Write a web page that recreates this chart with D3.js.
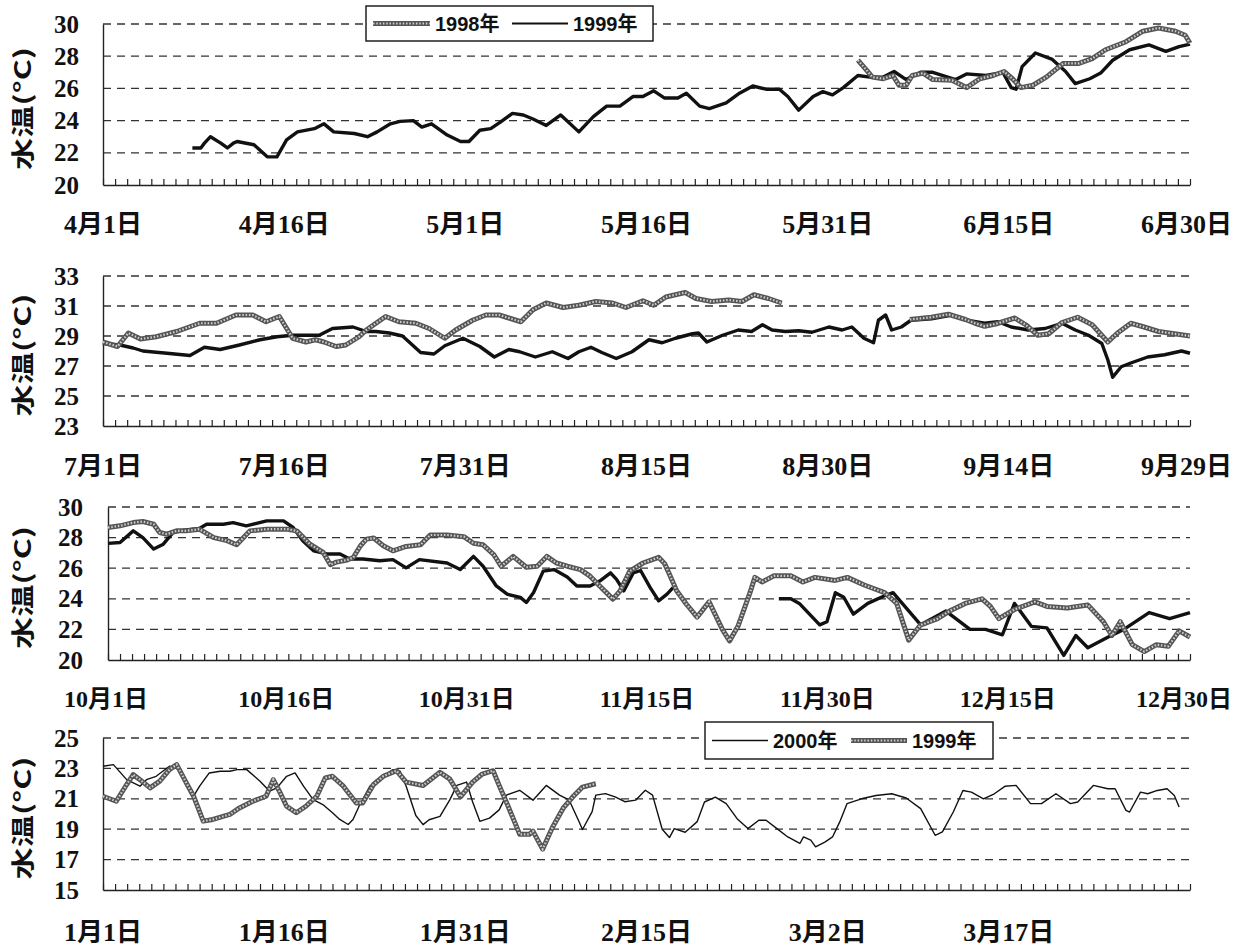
<!DOCTYPE html>
<html>
<head>
<meta charset="utf-8">
<script src="https://cdn.jsdelivr.net/npm/d3@7"></script>
<style>
body { margin: 0; background: #fff; }
</style>
</head>
<body>
<svg id="chart" width="1238" height="947"></svg>
<script>
// ---- data: [day offset from first label, water temperature] ----

// panel 1: Apr 1 - Jun 30
let p1Labels = ["4月1日", "4月16日", "5月1日", "5月16日", "5月31日", "6月15日", "6月30日"];
let p1Ticks = [20, 22, 24, 26, 28, 30];
let p1Y1999 = [[7.4,22.3],[8.1,22.3],[8.4,22.6],[8.9,23.0],[9.75,22.6],[10.3,22.3],[10.8,22.6],[11.1,22.7],[12.5,22.5],[13.6,21.75],[14.4,21.75],[15.2,22.8],[16.1,23.3],[17.5,23.5],[18.3,23.8],[19.1,23.3],[20.8,23.2],[21.9,23.0],[22.7,23.3],[23.8,23.8],[24.6,23.95],[25.7,24.0],[26.4,23.6],[27.2,23.8],[28.5,23.1],[29.6,22.7],[30.3,22.7],[31.2,23.4],[32.1,23.5],[32.9,23.9],[33.9,24.45],[34.8,24.35],[35.6,24.1],[36.7,23.7],[37.9,24.35],[39.4,23.3],[40.6,24.25],[41.7,24.9],[42.8,24.9],[43.9,25.5],[44.7,25.5],[45.6,25.85],[46.5,25.4],[47.6,25.4],[48.3,25.7],[49.4,24.9],[50.2,24.75],[51.6,25.1],[52.7,25.7],[53.8,26.15],[54.9,25.95],[56.0,25.95],[56.7,25.5],[57.6,24.65],[58.8,25.5],[59.6,25.8],[60.4,25.6],[61.3,26.05],[62.5,26.8],[63.5,26.7],[64.6,26.7],[65.5,27.05],[66.5,26.55],[67.7,27.0],[68.7,27.0],[70.6,26.55],[71.5,26.9],[73.1,26.8],[74.5,27.0],[75.2,26.05],[75.6,25.95],[76.1,27.35],[77.2,28.2],[78.6,27.8],[79.7,27.05],[80.5,26.3],[81.7,26.6],[82.6,26.95],[83.6,27.75],[85.0,28.4],[86.6,28.7],[88.0,28.3],[89.1,28.6],[90,28.75]];
let p1Y1998 = [[62.5,27.75],[63.2,27.15],[63.7,26.7],[64.6,26.6],[65.4,26.8],[65.9,26.2],[66.5,26.2],[67.0,26.8],[67.9,26.95],[68.7,26.55],[70.3,26.5],[71.5,26.05],[72.6,26.6],[73.7,26.8],[74.6,27.05],[75.3,26.6],[76.0,26.05],[77.0,26.2],[78.1,26.7],[79.5,27.55],[80.8,27.55],[81.9,27.85],[83.0,28.4],[84.7,28.9],[86.1,29.55],[87.4,29.75],[88.8,29.55],[89.6,29.3],[90,28.8]];

// panel 2: Jul 1 - Sep 29
let p2Labels = ["7月1日", "7月16日", "7月31日", "8月15日", "8月30日", "9月14日", "9月29日"];
let p2Ticks = [23, 25, 27, 29, 31, 33];
let p2Y1998 = [[0,28.6],[1.2,28.3],[2.1,29.2],[3.1,28.8],[4.4,28.95],[6.1,29.3],[8.0,29.85],[9.4,29.85],[11.0,30.4],[12.4,30.4],[13.5,29.95],[14.6,30.3],[15.7,28.85],[16.8,28.6],[17.6,28.75],[18.3,28.6],[19.3,28.3],[20.1,28.4],[21.2,28.95],[21.8,29.4],[22.6,29.85],[23.4,30.3],[24.5,29.95],[25.9,29.85],[27.0,29.5],[28.3,28.85],[29.2,29.4],[30.6,30.05],[31.7,30.4],[32.8,30.4],[33.6,30.2],[34.6,29.95],[35.6,30.75],[36.7,31.2],[38.1,30.9],[39.4,31.05],[40.8,31.3],[42.2,31.2],[43.3,30.9],[44.7,31.35],[45.6,31.05],[46.6,31.6],[48.2,31.9],[49.1,31.5],[50.4,31.3],[51.8,31.4],[52.9,31.3],[53.9,31.75],[55.1,31.5],[56.2,31.2],
  null,
  [66.8,30.1],[68.6,30.25],[70.0,30.45],[71.4,30.1],[72.2,29.85],[73.0,29.65],[73.9,29.8],[74.7,30.0],[75.5,30.2],[76.4,29.75],[77.4,29.05],[78.3,29.15],[79.4,29.9],[80.7,30.25],[81.9,29.75],[83.2,28.6],[84.0,29.2],[85.1,29.85],[86.2,29.6],[87.4,29.3],[88.7,29.15],[90,29.0]];
let p2Y1999 = [[0,28.5],[1.4,28.4],[2.5,28.2],[3.3,28.0],[5.3,27.85],[7.2,27.7],[8.4,28.25],[9.7,28.1],[11.3,28.4],[13.0,28.75],[14.4,28.95],[15.7,29.05],[17.9,29.05],[19.0,29.5],[20.7,29.6],[21.8,29.3],[22.6,29.3],[23.7,29.2],[24.8,29.0],[26.3,27.9],[27.4,27.8],[28.3,28.35],[29.8,28.85],[31.2,28.3],[32.4,27.6],[33.6,28.1],[34.5,27.95],[35.8,27.6],[37.2,27.95],[38.5,27.5],[39.4,27.95],[40.4,28.25],[41.3,27.9],[42.5,27.5],[43.8,27.95],[45.2,28.75],[46.3,28.55],[47.4,28.85],[48.8,29.15],[49.3,29.2],[50.0,28.6],[51.3,29.05],[52.6,29.4],[53.7,29.3],[54.6,29.75],[55.4,29.4],[56.5,29.3],[57.6,29.35],[58.7,29.25],[60.1,29.6],[61.2,29.4],[62.0,29.6],[63.0,28.85],[63.8,28.55],[64.2,30.05],[64.8,30.4],[65.3,29.4],[66.1,29.6],[66.9,30.05],[68.6,30.15],[70.3,30.4],[71.9,30.0],[73.0,29.85],[74.1,29.95],[75.2,29.6],[76.6,29.4],[78.0,29.5],[79.4,29.85],[80.5,29.4],[81.6,29.05],[82.7,28.5],[83.2,27.4],[83.6,26.25],[84.3,26.95],[85.1,27.2],[86.5,27.6],[87.9,27.75],[89.3,28.0],[90,27.85]];

// panel 3: Oct 1 - Dec 30
let p3Labels = ["10月1日", "10月16日", "10月31日", "11月15日", "11月30日", "12月15日", "12月30日"];
let p3Ticks = [20, 22, 24, 26, 28, 30];
let p3Y1998 = [[0,28.66],[1.0,28.77],[2.1,28.98],[2.9,29.05],[3.8,28.87],[4.3,28.33],[4.9,28.22],[5.7,28.44],[6.5,28.44],[7.6,28.55],[8.8,28.0],[9.9,27.8],[10.7,27.53],[11.8,28.44],[13.2,28.55],[14.9,28.55],[15.7,28.44],[16.8,27.57],[17.9,27.03],[18.5,26.23],[19.0,26.4],[19.9,26.54],[20.4,26.7],[21.0,27.47],[21.5,27.9],[22.1,27.97],[22.9,27.47],[23.7,27.14],[24.8,27.42],[26.0,27.53],[26.8,28.17],[28.2,28.17],[29.6,28.06],[30.4,27.63],[31.2,27.53],[32.1,26.88],[32.7,26.13],[33.7,26.77],[34.8,26.06],[35.7,26.13],[36.5,26.77],[37.3,26.34],[38.2,26.13],[39.3,25.91],[40.1,25.48],[40.9,24.84],[42.0,23.98],[42.6,24.52],[43.4,25.81],[44.5,26.34],[45.8,26.71],[46.3,26.3],[46.7,25.6],[47.3,24.52],[48.1,23.66],[49.0,22.8],[50.0,23.8],[51.1,22.0],[51.7,21.25],[52.4,22.2],[53.4,24.4],[53.8,25.4],[54.4,25.1],[55.4,25.5],[56.8,25.5],[57.8,25.1],[58.8,25.4],[60.5,25.2],[61.5,25.4],[62.9,24.9],[64.6,24.4],[65.6,23.7],[66.6,21.3],[67.6,22.3],[68.0,22.4],[69.0,22.7],[70.0,23.2],[71.3,23.7],[72.7,24.0],[73.4,23.5],[74.1,22.7],[75.4,23.3],[77.1,23.8],[78.1,23.5],[79.8,23.4],[81.5,23.6],[82.8,22.5],[83.5,21.6],[84.2,22.5],[85.2,21.0],[86.2,20.55],[87.2,21.0],[88.2,20.9],[89.1,21.9],[90,21.5]];
let p3Y1999 = [[0,27.62],[1.0,27.68],[2.1,28.44],[2.9,28.0],[3.8,27.25],[4.6,27.57],[5.4,28.33],[6.3,28.48],[7.6,28.6],[8.2,28.87],[9.6,28.87],[10.4,28.98],[11.5,28.77],[13.2,29.09],[14.6,29.09],[15.4,28.66],[16.2,27.8],[17.1,27.14],[18.2,26.93],[19.3,26.93],[20.1,26.6],[21.2,26.6],[22.6,26.49],[23.7,26.56],[24.8,26.02],[25.9,26.56],[28.2,26.34],[29.3,25.91],[30.4,26.77],[31.2,26.13],[32.3,24.84],[33.2,24.3],[34.3,24.09],[34.8,23.76],[35.4,24.41],[36.2,25.81],[37.1,25.91],[38.2,25.42],[39.0,24.84],[40.1,24.84],[40.9,25.16],[41.8,25.7],[42.3,25.27],[42.9,24.52],[43.7,25.7],[44.3,25.85],[45.1,24.73],[45.8,23.87],[46.5,24.3],[47.0,24.73],
  null,
  [55.8,24.0],[56.8,24.0],[57.5,23.7],[59.2,22.3],[59.8,22.5],[60.5,24.4],[61.2,24.1],[62.0,23.0],[63.2,23.7],[64.6,24.2],[65.3,24.4],[67.6,22.3],[69.7,23.2],[71.7,22.0],[73.0,22.0],[74.4,21.65],[75.4,23.7],[76.8,22.2],[78.1,22.1],[79.5,20.3],[80.5,21.6],[81.5,20.8],[83.2,21.5],[84.5,22.0],[86.6,23.1],[88.3,22.7],[90,23.1]];

// panel 4: Jan 1 - end of March
let p4Labels = ["1月1日", "1月16日", "1月31日", "2月15日", "3月2日", "3月17日"];
let p4Ticks = [15, 17, 19, 21, 23, 25];
let p4Y2000 = [[0,23.14],[0.86,23.25],[1.96,22.26],[3.06,21.83],[3.6,22.26],[4.4,22.48],[5.5,23.14],[6.4,22.92],[6.9,21.83],[7.5,21.17],[8.0,21.83],[8.8,22.7],[9.7,22.81],[10.5,22.81],[11.1,22.92],[11.9,22.92],[13.0,22.16],[13.8,21.5],[14.4,21.72],[15.2,22.48],[15.9,22.7],[16.6,21.83],[17.4,20.95],[18.2,20.62],[19.0,20.08],[19.6,19.64],[20.3,19.31],[20.7,19.64],[21.2,20.51],[22.1,21.83],[23.2,22.48],[24.0,22.92],[24.6,22.81],[25.1,21.83],[25.9,19.9],[26.5,19.3],[27.0,19.62],[27.9,19.84],[28.7,20.91],[29.3,21.88],[30.1,22.1],[30.6,20.81],[31.2,19.52],[32.0,19.73],[32.8,20.27],[33.4,21.24],[34.5,21.56],[35.6,20.91],[36.7,21.88],[37.8,21.24],[38.6,20.91],[39.4,19.52],[39.7,18.98],[40.5,20.16],[40.8,21.24],[41.6,21.34],[42.4,21.13],[43.2,20.81],[44.1,20.91],[44.9,21.56],[45.5,21.24],[46.3,19.0],[46.9,18.45],[47.3,19.04],[48.2,18.8],[49.2,19.5],[49.8,20.79],[50.7,21.11],[51.6,20.68],[52.5,19.69],[53.4,19.04],[54.3,19.59],[54.9,19.59],[55.8,19.04],[56.7,18.49],[57.7,18.06],[58.0,18.49],[58.6,18.28],[59.0,17.84],[59.8,18.17],[60.4,18.49],[61.0,19.48],[61.6,20.68],[62.8,21.0],[64.0,21.22],[65.3,21.33],[66.5,21.05],[67.7,20.35],[68.9,18.6],[69.5,18.82],[70.4,20.13],[71.2,21.55],[71.9,21.44],[72.9,21.0],[73.8,21.33],[74.7,21.83],[75.6,21.88],[76.8,20.68],[77.7,20.68],[78.9,21.33],[80.1,20.68],[80.7,20.79],[82.0,21.88],[83.2,21.66],[83.8,21.66],[84.7,20.24],[85.0,20.13],[85.9,21.44],[86.5,21.33],[87.3,21.55],[88.1,21.66],[88.7,21.22],[89.1,20.46]];
let p4Y1999 = [[0,21.17],[1.1,20.84],[1.96,21.94],[2.5,22.59],[3.06,22.26],[3.9,21.72],[4.7,22.16],[5.5,22.92],[6.1,23.25],[6.9,22.05],[7.5,21.17],[8.3,19.53],[9.1,19.64],[10.5,19.97],[11.3,20.4],[12.4,20.84],[13.5,21.17],[14.1,22.26],[14.6,21.5],[15.2,20.51],[16.0,20.08],[16.8,20.51],[17.7,21.17],[18.4,22.37],[19.0,22.48],[19.9,21.83],[20.97,20.73],[21.5,20.73],[22.4,21.94],[23.2,22.48],[24.3,22.85],[25.1,22.1],[26.5,21.88],[27.9,22.74],[28.7,22.31],[29.6,21.13],[30.6,22.1],[31.4,22.63],[32.3,22.85],[32.8,21.88],[33.5,20.59],[34.5,18.66],[35.3,18.66],[35.6,18.87],[36.4,17.69],[37.2,19.09],[38.1,20.38],[38.9,21.13],[39.7,21.77],[40.8,21.99]];

const svg = d3.select("#chart");
const serif = "'Liberation Serif', 'DejaVu Serif', 'Noto Sans CJK JP', serif";
const gothic = "'Noto Sans CJK JP', 'Liberation Sans', sans-serif";

// marker style series (gray chain) vs. plain black series
function DrawChain(g, path) {
    g.append("path").attr("d", path).attr("fill", "none")
        .attr("stroke", "#555").attr("stroke-width", 5).attr("stroke-linejoin", "round");
    g.append("path").attr("d", path).attr("fill", "none")
        .attr("stroke", "#cfcfcf").attr("stroke-width", 2.2).attr("stroke-dasharray", "1.5,1.8");
}
function DrawSolid(g, path, w) {
    g.append("path").attr("d", path).attr("fill", "none")
        .attr("stroke", "#111").attr("stroke-width", w).attr("stroke-linejoin", "round");
}

function DrawPanel(p) {
    let x = d3.scaleLinear().domain([0, 90]).range([p.left, p.right]);
    let y = d3.scaleLinear().domain([p.ticks[0], p.ticks[p.ticks.length - 1]]).range([p.bottom, p.top]);
    let g = svg.append("g");

    // dashed grid
    g.selectAll("line.grid").data(p.ticks.slice(1)).join("line")
        .attr("x1", p.left).attr("x2", p.right)
        .attr("y1", d => y(d)).attr("y2", d => y(d))
        .attr("stroke", "#333").attr("stroke-width", 1.3).attr("stroke-dasharray", "8,6");

    // left axis with labels
    let ya = g.append("g").attr("transform", "translate(" + p.left + ",0)")
        .call(d3.axisLeft(y).tickValues(p.ticks).tickSize(0).tickPadding(p.yPad).tickFormat(d3.format("d")));
    ya.select(".domain").attr("stroke", "#222").attr("stroke-width", 1.4);
    ya.selectAll("text").attr("font-family", serif).attr("font-weight", "bold").attr("font-size", 25).attr("fill", "#111");

    // bottom axis: one tick per day, pointing up
    let xa = g.append("g").attr("transform", "translate(0," + p.bottom + ")")
        .call(d3.axisBottom(x).tickValues(d3.range(0, 91)).tickSize(-6).tickSizeOuter(0).tickFormat(""));
    xa.select(".domain").attr("stroke", "#222").attr("stroke-width", 1.6);
    xa.selectAll(".tick line").attr("stroke", "#222").attr("stroke-width", 1.2);

    // date labels every 15 days, kept inside the page on the right
    g.selectAll("text.xl").data(p.labels).join("text")
        .attr("x", (d, i) => x(i * 15) + p.labelDx)
        .attr("y", p.labelY)
        .attr("text-anchor", "middle")
        .attr("font-family", serif).attr("font-weight", "bold").attr("font-size", p.labelSize).attr("fill", "#111")
        .text(d => d)
        .each(function () {
            let w = this.getComputedTextLength();
            let cx = +this.getAttribute("x");
            if (cx + w / 2 > 1232) this.setAttribute("x", 1232 - w / 2);
        });

    // y title, stretched along its baseline like the scan
    g.append("text")
        .attr("transform", "translate(31," + ((p.top + p.bottom) / 2 + 4) + ") rotate(-90) scale(1.4,1)")
        .attr("text-anchor", "middle")
        .attr("font-family", gothic).attr("font-weight", "bold").attr("font-size", 23).attr("fill", "#111")
        .text("水温(°C)");

    let line = d3.line().defined(d => d != null).x(d => x(d[0])).y(d => y(d[1]));
    p.series.forEach(s => {
        if (s.style === "chain") DrawChain(g, line(s.data));
        else DrawSolid(g, line(s.data), s.width);
    });

    if (p.legend) {
        let L = p.legend;
        let lg = g.append("g");
        lg.append("rect").attr("x", L.x).attr("y", L.y).attr("width", L.w).attr("height", L.h)
            .attr("fill", "#fff").attr("stroke", "#111").attr("stroke-width", 1.4);
        let cy = L.y + L.h / 2;
        L.items.forEach(it => {
            let seg = "M" + it.x0 + "," + cy + "L" + it.x1 + "," + cy;
            if (it.style === "chain") DrawChain(lg, seg);
            else DrawSolid(lg, seg, it.width);
            lg.append("text").attr("x", it.x1 + 5).attr("y", cy + 7)
                .attr("font-family", "'Liberation Sans', 'Noto Sans CJK JP', sans-serif")
                .attr("font-weight", "bold").attr("font-size", 20).attr("fill", "#111")
                .text(it.label);
        });
    }
}

DrawPanel({
    left: 103, right: 1190, top: 24, bottom: 185, yPad: 24, labelY: 233, labelDx: 0, labelSize: 26,
    ticks: p1Ticks, labels: p1Labels,
    series: [{ data: p1Y1999, style: "solid", width: 3.4 }, { data: p1Y1998, style: "chain" }],
    legend: { x: 366, y: 6, w: 287, h: 35, items: [
        { x0: 373, x1: 430, style: "chain", label: "1998年" },
        { x0: 512, x1: 568, style: "solid", width: 2, label: "1999年" }] }
});
DrawPanel({
    left: 103, right: 1190, top: 276, bottom: 426, yPad: 24, labelY: 475, labelDx: 0, labelSize: 26,
    ticks: p2Ticks, labels: p2Labels,
    series: [{ data: p2Y1999, style: "solid", width: 3.4 }, { data: p2Y1998, style: "chain" }]
});
DrawPanel({
    left: 108, right: 1190, top: 507, bottom: 660, yPad: 25, labelY: 707, labelDx: -2, labelSize: 24,
    ticks: p3Ticks, labels: p3Labels,
    series: [{ data: p3Y1999, style: "solid", width: 3.4 }, { data: p3Y1998, style: "chain" }]
});
DrawPanel({
    left: 103, right: 1190, top: 738, bottom: 890, yPad: 24, labelY: 941, labelDx: 0, labelSize: 26,
    ticks: p4Ticks, labels: p4Labels,
    series: [{ data: p4Y2000, style: "solid", width: 1.4 }, { data: p4Y1999, style: "chain" }],
    legend: { x: 705, y: 722, w: 288, h: 37, items: [
        { x0: 712, x1: 768, style: "solid", width: 1.4, label: "2000年" },
        { x0: 851, x1: 907, style: "chain", label: "1999年" }] }
});
</script>
</body>
</html>
